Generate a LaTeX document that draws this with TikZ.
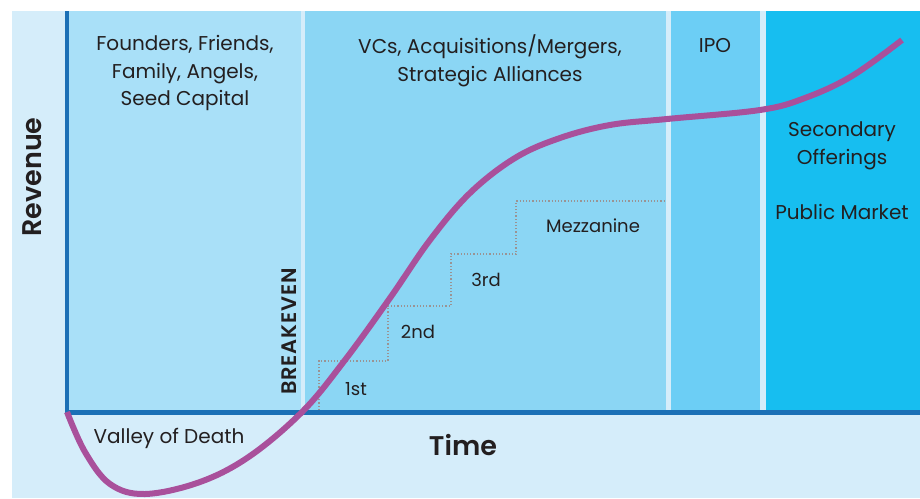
\documentclass[tikz,border=0pt]{standalone}
\usepackage{fontspec}
\setmainfont{Poppins}
\newfontfamily\semibf{Poppins SemiBold}
\newfontfamily\semibfls[LetterSpace=4]{Poppins SemiBold}
\definecolor{bgc}{HTML}{D5EDFA}
\definecolor{pa}{HTML}{A9E0F8}
\definecolor{pb}{HTML}{8BD6F4}
\definecolor{pc}{HTML}{6CCEF5}
\definecolor{pd}{HTML}{17BEF0}
\definecolor{axisc}{HTML}{1B70B6}
\definecolor{curvec}{HTML}{A9509B}
\definecolor{txt}{HTML}{231F20}
\definecolor{dotc}{HTML}{9A9393}
\begin{document}
\begin{tikzpicture}[x=1pt,y=-1pt,
  lbl/.style={text=txt,font=\fontsize{20}{27.5}\selectfont,align=center,inner sep=0pt},
  axlbl/.style={text=txt,font=\fontsize{27}{30}\semibf,inner sep=0pt},
  steplbl/.style={text=txt,font=\fontsize{18}{20}\selectfont,inner sep=0pt}]
\useasboundingbox (0,0) rectangle (920,498);
\fill[white] (0,0) rectangle (920,498);
\fill[bgc] (12,11) rectangle (920,498);
\fill[pa] (67,11) rectangle (301,410);
\fill[pb] (305,11) rectangle (666,410);
\fill[pc] (671,11) rectangle (760,410);
\fill[pd] (766,11) rectangle (920,410);
% staircase
\draw[dotc,dotted,line width=1.2pt] (319,410) -- (319,361) -- (388,361) -- (388,306) -- (451,306) -- (451,254) -- (516,254) -- (516,201) -- (665,201);
% axes
\draw[axisc,line width=4.5pt] (67,11) -- (67,412.5) -- (920,412.5);
% labels
\node[lbl] (seed) at (185,73) {Founders, Friends,\\Family, Angels,\\Seed Capital};
\node[lbl] (vc) at (490,61) {VCs, Acquisitions/Mergers,\\Strategic Alliances};
\node[lbl] (ipo) at (715,46) {IPO};
\node[lbl] (sec) at (842,146) {Secondary\\Offerings};
\node[lbl] (pub) at (842,212) {Public Market};
\node[lbl] (vod) at (169,438) {Valley of Death};
\node[steplbl] (s1) at (356,389) {1st};
\node[steplbl] (s2) at (418,332) {2nd};
\node[steplbl] (s3) at (486,280) {3rd};
\node[steplbl] (mz) at (593,226) {Mezzanine};
\node[axlbl,rotate=90] (rev) at (32,177) {Revenue};
\node[axlbl] (time) at (463,445) {Time};
\node[text=txt,font=\fontsize{21}{21}\semibfls,inner sep=0pt,rotate=90] (be) at (289.5,331.5) {BREAKEVEN};
% curve
\draw[curvec,line width=6pt] plot[smooth,tension=0.6] coordinates {(67,412) (85,452) (110,484) (145,494) (200,482) (250,456) (303,411) (345,360) (390,298) (430,240) (470,193) (515,158) (560,138) (610,125) (667,119) (760,110) (805,98) (852,76) (902,40)};
\end{tikzpicture}
\end{document}
